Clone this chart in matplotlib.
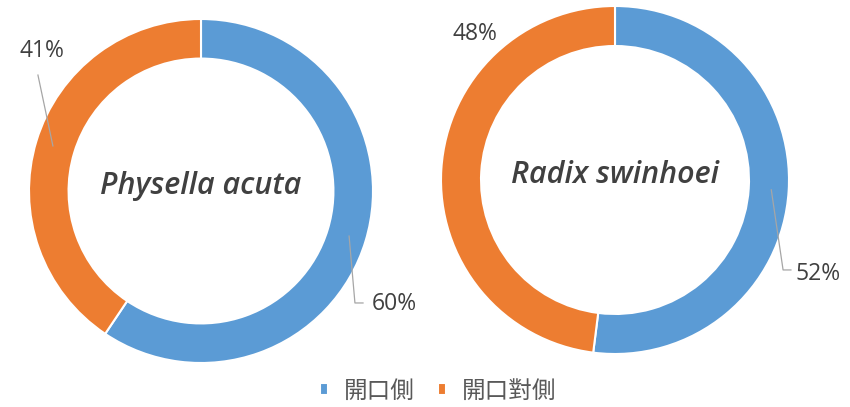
import matplotlib
matplotlib.use("Agg")
import matplotlib.pyplot as plt
import numpy as np

# data
species = ["Physella acuta", "Radix swinhoei"]
categories = ["開口側", "開口對側"]
left_values = [60, 41]
right_values = [52, 48]
left_labels = ["60%", "41%"]
right_labels = ["52%", "48%"]

colors = ["#5B9BD5", "#ED7D31"]
text_color = "#404040"
line_color = "#A6A6A6"

W, H = 850, 407
fig = plt.figure(figsize=(W / 100, H / 100), dpi=100)


def px_axes(cx, cy, r):
    return fig.add_axes([(cx - r) / W, (H - cy - r) / H, 2 * r / W, 2 * r / H])


# label layout: (text x, text y, leader polyline or None) in axes data units
left_layout = [
    ((1.122, -0.657), [(0.895, -0.651), (0.942, -0.651)]),
    ((-0.924, 0.814), [(-0.948, 0.674)]),
]
right_layout = [
    ((1.167, -0.540), [(0.966, -0.517), (1.011, -0.517)]),
    ((-0.805, 0.839), None),
]

axes = [px_axes(201, 191, 172), px_axes(615, 180, 174)]
all_values = [left_values, right_values]
all_labels = [left_labels, right_labels]
all_layout = [left_layout, right_layout]

wedges_keep = None
for ax, name, vals, labs, lay in zip(axes, species, all_values, all_labels, all_layout):
    wedges, _ = ax.pie(vals, colors=colors, startangle=90, counterclock=False,
                       radius=1, wedgeprops=dict(width=0.23, edgecolor="white", linewidth=1.5))
    ax.set_xlim(-1, 1)
    ax.set_ylim(-1, 1)
    ax.set_aspect("auto")
    ax.axis("off")
    if wedges_keep is None:
        wedges_keep = wedges
    for w, lab, (tpos, leader) in zip(wedges, labs, lay):
        mid = np.deg2rad((w.theta1 + w.theta2) / 2)
        r0 = 0.9
        start = (r0 * np.cos(mid), r0 * np.sin(mid))
        if leader is not None:
            pts = [start] + leader
            xs, ys = zip(*pts)
            ax.plot(xs, ys, color=line_color, lw=0.9, clip_on=False)
        ax.text(tpos[0], tpos[1], lab, ha="center", va="center", fontsize=16.5,
                color=text_color, family=["Open Sans", "DejaVu Sans"])
    ax.text(0, 0.03, name, ha="center", va="center", fontsize=22, style="italic",
            weight="semibold", color=text_color, family=["Open Sans", "DejaVu Sans"])

fig.legend(wedges_keep, categories, loc="center", bbox_to_anchor=(438 / W, 1 - 391 / H),
           ncol=2, frameon=False, handlelength=0.35, handleheight=0.35,
           handletextpad=0.65, columnspacing=1.0,
           prop={"family": ["Noto Sans CJK TC", "DejaVu Sans"], "size": 17, "weight": "medium"},
           labelcolor="#595959")

fig.savefig("out.png", dpi=100, facecolor="white")
